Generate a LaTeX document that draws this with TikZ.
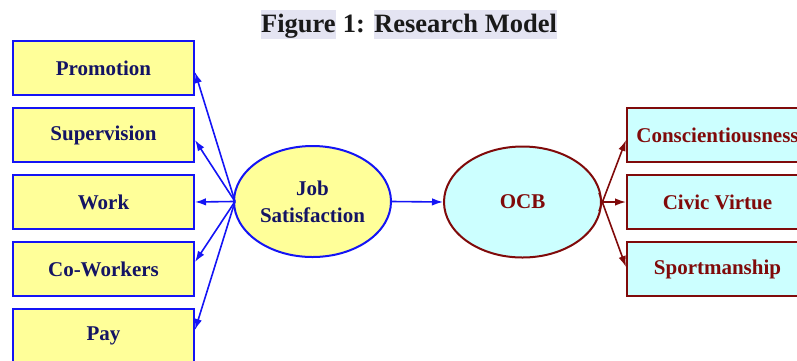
\documentclass[tikz,border=0pt]{standalone}
\usepackage{fontspec}
\setmainfont{Liberation Serif}
\usetikzlibrary{arrows.meta,shapes.geometric}
\definecolor{lblue}{RGB}{20,20,245}
\definecolor{ltext}{RGB}{20,20,100}
\definecolor{dred}{RGB}{128,10,10}
\definecolor{yfill}{RGB}{255,255,153}
\definecolor{cfill}{RGB}{204,255,255}
\definecolor{hl}{RGB}{228,228,242}
\tikzset{
  lbox/.style={draw=lblue, line width=2pt, fill=yfill, minimum width=181pt, minimum height=54pt, inner sep=0pt,
    text=ltext, font=\fontsize{21}{24}\selectfont\bfseries},
  rbox/.style={draw=dred, line width=2pt, fill=cfill, minimum width=181pt, minimum height=54pt, inner sep=0pt,
    text=dred, font=\fontsize{21}{24}\selectfont\bfseries},
  lell/.style={ellipse, draw=lblue, line width=2pt, fill=yfill, minimum width=157pt, minimum height=111pt, inner sep=0pt,
    text=ltext, align=center, font=\fontsize{21}{27}\selectfont\bfseries},
  rell/.style={ellipse, draw=dred, line width=2pt, fill=cfill, minimum width=157pt, minimum height=111pt, inner sep=0pt,
    text=dred, align=center, font=\fontsize{21}{27}\selectfont\bfseries},
  larr/.style={draw=lblue, line width=1.6pt, -{Latex[length=11pt,width=7.5pt]}},
  rarr/.style={draw=dred, line width=1.6pt, -{Latex[length=11pt,width=7.5pt]}},
}
\newcommand{\hlbox}[1]{{\fboxsep=0.5pt\colorbox{hl}{\rule[-0.24em]{0pt}{1.06em}#1}}}
\begin{document}
\begin{tikzpicture}[x=1pt,y=-1pt]
\useasboundingbox (0,0) rectangle (797,360);
\clip (0,0) rectangle (797,360);
% title
\node[anchor=base, font=\fontsize{26.5}{30}\selectfont\bfseries, inner sep=0pt, text={black!90}] (title) at (409,32)
  {\hlbox{Figure} 1: \hlbox{Research Model}};
% left boxes
\node[lbox] (pro) at (103.5,68) {Promotion};
\node[lbox] (sup) at (103.5,135) {Supervision};
\node[lbox] (wor) at (103.5,202) {Work};
\node[lbox] (cow) at (103.5,269) {Co-Workers};
\node[lbox] (pay) at (103.5,336) {Pay};
% ellipses
\node[lell] (js) at (312.5,201.5) {Job\\Satisfaction};
\node[rell] (ocb) at (522.5,202) {OCB};
% right boxes
\node[rbox] (con) at (717.5,135) {Conscientiousness};
\node[rbox] (civ) at (717.5,202) {Civic Virtue};
\node[rbox] (spo) at (717.5,269) {Sportmanship};
% arrows
\draw[larr] ([xshift=2pt]js.west) -- ([yshift=-4pt]pro.east);
\draw[larr] ([xshift=2pt]js.west) -- ([yshift=-5pt]sup.east);
\draw[larr] (js.west) -- (wor.east);
\draw[larr] ([xshift=2pt]js.west) -- ([yshift=7pt]cow.east);
\draw[larr] ([xshift=2pt]js.west) -- ([yshift=6pt]pay.east);
\draw[larr] (js.east) -- (ocb.west);
\draw[rarr] ([xshift=-3pt,yshift=-9pt]ocb.east) -- ([yshift=-5pt]con.west);
\draw[rarr] (ocb.east) -- (civ.west);
\draw[rarr] ([xshift=-3pt,yshift=9pt]ocb.east) -- ([yshift=2pt]spo.west);
\end{tikzpicture}
\end{document}
